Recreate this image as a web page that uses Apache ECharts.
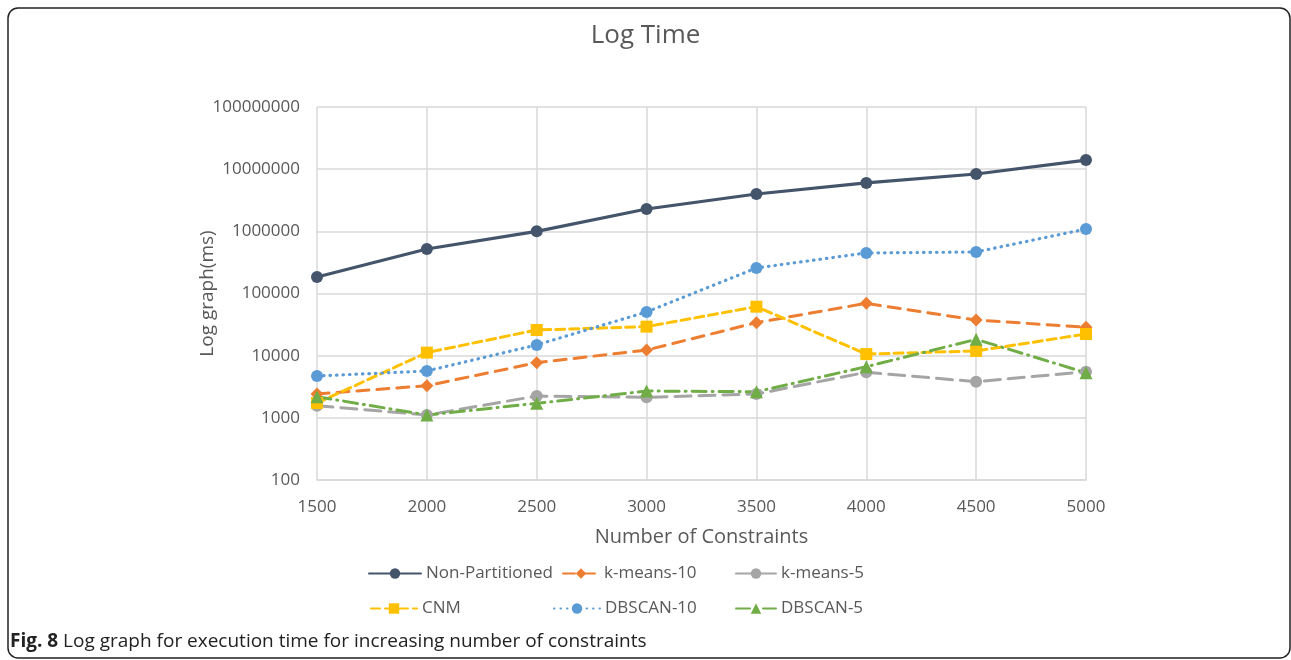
<!DOCTYPE html>
<html>
<head>
<meta charset="utf-8">
<script src="https://cdn.jsdelivr.net/npm/echarts@6/dist/echarts.min.js"></script>
<style>
html,body{margin:0;padding:0;background:#fff;}
#chart{width:1291px;height:660px;}
</style>
</head>
<body>
<div id="chart"></div>
<script>
const categories = ['1500','2000','2500','3000','3500','4000','4500','5000'];
const nonPartitioned = [184000, 520000, 1000000, 2290000, 3990000, 6000000, 8360000, 14000000];
const kmeans10 = [2420, 3290, 7710, 12300, 34000, 69500, 37500, 28600];
const kmeans5 = [1570, 1110, 2240, 2140, 2420, 5400, 3820, 5520];
const cnm = [1730, 11200, 25900, 29300, 61400, 10600, 11900, 22300];
const dbscan10 = [4710, 5680, 14900, 50500, 257000, 449000, 466000, 1090000];
const dbscan5 = [2190, 1110, 1710, 2700, 2630, 6650, 18300, 5320];
const yTicks = [100, 1000, 10000, 100000, 1000000, 10000000, 100000000];

const FONT = '"Open Sans", "Noto Sans", sans-serif';
const TXT = '#595959';

const seriesDefs = [
  {name:'Non-Partitioned', data:nonPartitioned, color:'#44546A', symbol:'circle', size:12, type:'solid', width:3.2},
  {name:'k-means-10', data:kmeans10, color:'#ED7D31', symbol:'diamond', size:13, type:[12,8], width:3},
  {name:'k-means-5', data:kmeans5, color:'#A5A5A5', symbol:'circle', size:12, type:[16,8], width:3},
  {name:'CNM', data:cnm, color:'#FFC000', symbol:'rect', size:12, type:[9,5], width:3},
  {name:'DBSCAN-10', data:dbscan10, color:'#5B9BD5', symbol:'circle', size:12, type:[0.5,6], width:3.2},
  {name:'DBSCAN-5', data:dbscan5, color:'#70AD47', symbol:'triangle', size:13, type:[14,6,1,6], width:3}
];

const legendPos = [
  {left:363, top:560, w:52},
  {left:557, top:560, w:36},
  {left:730, top:560, w:40},
  {left:365, top:595, w:46},
  {left:548, top:595, w:46},
  {left:730, top:595, w:40}
];

const chart = echarts.init(document.getElementById('chart'));
chart.setOption({
  animation:false,
  backgroundColor:'#fff',
  title:{text:'Log Time', left:'center', top:18, textStyle:{fontFamily:FONT, fontSize:26, fontWeight:'normal', color:TXT}},
  grid:{left:317, right:205, top:107, bottom:180, containLabel:false},
  legend: seriesDefs.map((s,i)=>({
    data:[s.name], left:legendPos[i].left, top:legendPos[i].top,
    itemWidth:legendPos[i].w, itemHeight:13, itemGap:0,
    textStyle:{fontFamily:FONT, fontSize:17, color:TXT}
  })),
  xAxis:{
    type:'category', data:categories, boundaryGap:false,
    name:'Number of Constraints', nameLocation:'middle', nameGap:47, nameMoveOverlap:false,
    nameTextStyle:{fontFamily:FONT, fontSize:20, color:TXT},
    axisLine:{show:true, lineStyle:{color:'#d9d9d9', width:1.5}},
    axisTick:{show:false},
    axisLabel:{fontFamily:FONT, fontSize:17, color:TXT, margin:19},
    splitLine:{show:true, lineStyle:{color:'#d9d9d9', width:1.5}}
  },
  yAxis:{
    type:'log', logBase:10, min:100, max:100000000,
    name:'Log graph(ms)', nameLocation:'middle', nameGap:100, nameMoveOverlap:false,
    nameTextStyle:{fontFamily:FONT, fontSize:19, color:TXT},
    axisLine:{show:false}, axisTick:{show:false},
    axisLabel:{fontFamily:FONT, fontSize:17, color:TXT, margin:17,
      formatter:v=>{ const r = yTicks.find(t=>Math.abs(t-v)/t<1e-6); return r!==undefined? String(r): String(Math.round(v)); }},
    splitLine:{show:true, lineStyle:{color:'#d9d9d9', width:1.5}}
  },
  series: seriesDefs.map(s=>({
    name:s.name, type:'line', data:s.data,
    symbol:s.symbol, symbolSize:s.size,
    itemStyle:{color:s.color},
    lineStyle:{color:s.color, width:s.width, type:s.type, cap:'round'}
  })),
  graphic:[
    {type:'rect', shape:{x:8, y:8, width:1282, height:650, r:10}, style:{fill:null, stroke:'#222', lineWidth:1.5}, silent:true},
    {type:'text', left:10, top:632, style:{text:'{b|Fig. 8} Log graph for execution time for increasing number of constraints',
      fontFamily:FONT, fontSize:19, fill:'#222', rich:{b:{fontWeight:'bold', fontFamily:FONT, fontSize:19, fill:'#222'}}}}
  ]
});
</script>
</body>
</html>
